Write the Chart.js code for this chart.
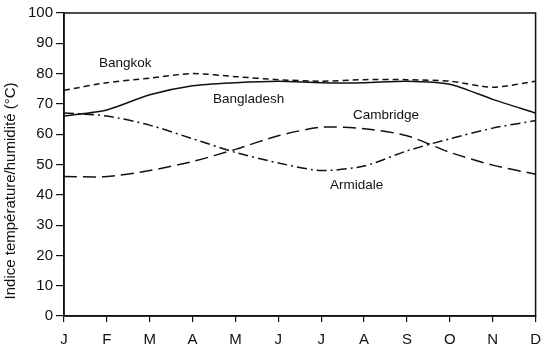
<!DOCTYPE html>
<html><head><meta charset="utf-8">
<script src="https://cdn.jsdelivr.net/npm/chart.js@4/dist/chart.umd.min.js"></script>
<style>html,body{margin:0;padding:0;background:#fff}#wrap{width:550px;height:353px}</style>
</head><body><div id="wrap"><canvas id="c"></canvas></div>
<script>
const months = ['J','F','M','A','M','J','J','A','S','O','N','D'];
const bangkok    = [74.5, 77, 78.5, 80, 79, 78, 77.5, 78, 78, 77.5, 75.5, 77.5];
const bangladesh = [66, 68, 73, 76, 77, 77.5, 77, 77, 77.5, 76.5, 71.5, 67];
const cambridge  = [46, 46, 48, 51, 55, 59.5, 62.3, 61.8, 59.5, 54, 49.8, 46.8];
const armidale   = [67, 66, 63, 58.5, 54, 50.5, 48, 49.5, 54.5, 58.5, 62, 64.5];
const yTicks = [0,10,20,30,40,50,60,70,80,90,100];
const seriesNames = ['Bangkok','Bangladesh','Cambridge','Armidale'];
const yTitle = 'Indice température/humidité (°C)';

const FONT = '"Liberation Sans", Arial, sans-serif';
const labelPos = [ // [x px, y px] text anchors (style, not data)
  [99, 63], [213, 99], [353, 115], [330, 185]
];

const frame = {
  id:'frame',
  afterDraw(chart){
    const {ctx, chartArea:a} = chart;
    ctx.save();
    ctx.strokeStyle='#111'; ctx.lineWidth=1.5;
    ctx.strokeRect(a.left, a.top, a.right-a.left, a.bottom-a.top);
    ctx.fillStyle='#111';
    ctx.font='13.5px ' + FONT;
    ctx.textBaseline='middle';
    seriesNames.forEach((n,i)=>ctx.fillText(n, labelPos[i][0], labelPos[i][1]));
    // y-axis title
    ctx.translate(11, 191);
    ctx.rotate(-Math.PI/2);
    ctx.textAlign='center';
    ctx.font='15px ' + FONT;
    ctx.fillText(yTitle, 0, 0);
    ctx.restore();
  }
};

const common = {borderColor:'#111', borderWidth:1.5, pointRadius:0, fill:false, tension:0.25};
new Chart(document.getElementById('c'), {
  type:'line',
  data:{labels:months, datasets:[
    {...common, label:seriesNames[0], data:bangkok, borderDash:[6,4]},
    {...common, label:seriesNames[1], data:bangladesh},
    {...common, label:seriesNames[2], data:cambridge, borderDash:[13,6]},
    {...common, label:seriesNames[3], data:armidale, borderDash:[10,4,2,4]}
  ]},
  plugins:[frame],
  options:{
    responsive:true, maintainAspectRatio:false, animation:false,
    layout:{padding:{top:13, right:13, left:0, bottom:0}},
    plugins:{legend:{display:false}, tooltip:{enabled:false}},
    scales:{
      x:{
        offset:false,
        grid:{display:true, drawOnChartArea:false, drawTicks:true, tickLength:6, color:'#111', lineWidth:1.2},
        border:{display:true, color:'#111', width:1.5},
        ticks:{color:'#111', font:{size:15, family:FONT}, padding:9, maxRotation:0, autoSkip:false},
        afterFit(s){ s.height = 37; }
      },
      y:{
        min:0, max:100,
        afterBuildTicks(s){ s.ticks = yTicks.map(v=>({value:v})); },
        grid:{display:true, drawOnChartArea:false, drawTicks:true, tickLength:8, color:'#111', lineWidth:1.2},
        border:{display:true, color:'#111', width:1.5},
        ticks:{color:'#111', font:{size:15, family:FONT}, padding:3},
        title:{display:false},
        afterFit(s){ s.width = 64; }
      }
    }
  }
});
</script></body></html>
